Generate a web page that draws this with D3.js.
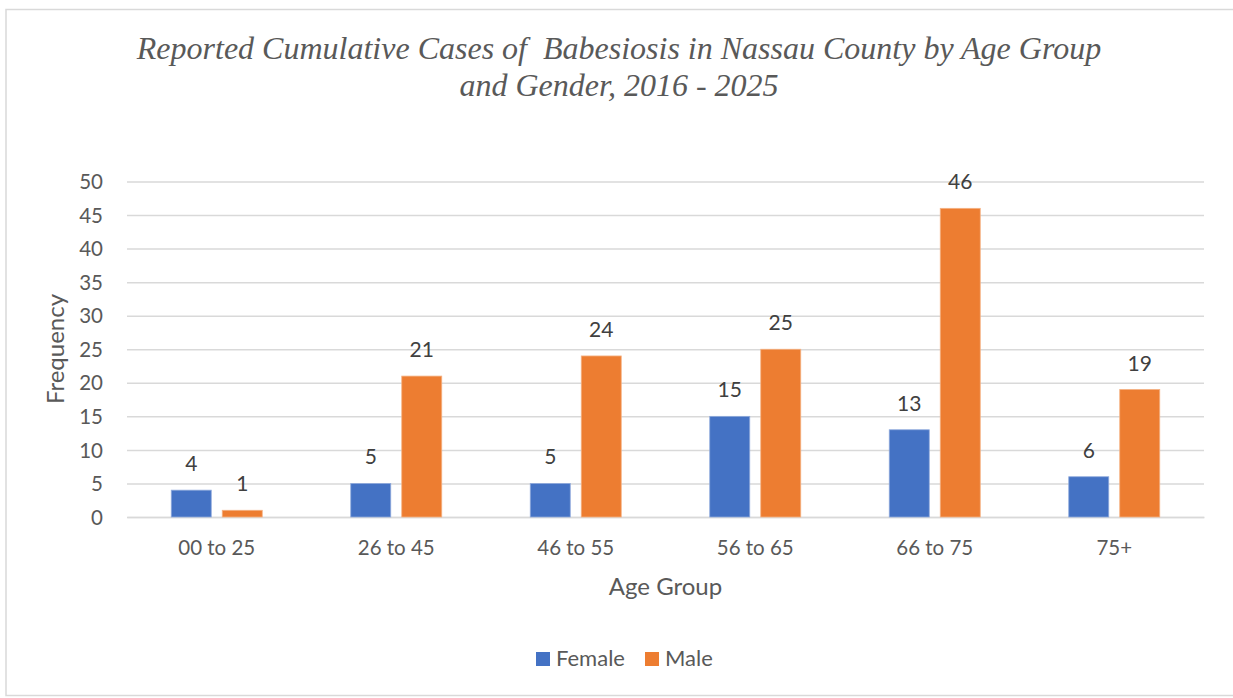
<!DOCTYPE html>
<html>
<head>
<meta charset="utf-8">
<script src="https://cdn.jsdelivr.net/npm/d3@7"></script>
<style>
  body { margin: 0; background: #fff; }
  svg text { white-space: pre; }
</style>
</head>
<body>
<div id="chart-area"></div>
<script>
// datos del grafico
var grupos = ["00 to 25", "26 to 45", "46 to 55", "56 to 65", "66 to 75", "75+"];
var series = ["Female", "Male"];
var female = [4, 5, 5, 15, 13, 6];
var male = [1, 21, 24, 25, 46, 19];
var yTicks = [0, 5, 10, 15, 20, 25, 30, 35, 40, 45, 50];
var titleLines = ["Reported Cumulative Cases of  Babesiosis in Nassau County by Age Group", "and Gender, 2016 - 2025"];

var W = 1233, H = 698;
var margin = { left: 127, right: 29, top: 181.5, bottom: 181 };
var width = 1204 - margin.left,
    height = 517 - margin.top;
var fuente = "Lato, 'Open Sans', sans-serif";

var colores = d3.scaleOrdinal().domain(series).range(["#4472C4", "#ED7D31"]);

var svg = d3.select("#chart-area")
    .append("svg")
        .attr("width", W)
        .attr("height", H);

// borde del grafico
svg.append("rect")
    .attr("x", 6).attr("y", 9.5)
    .attr("width", 1240).attr("height", 686)
    .attr("fill", "#fff")
    .attr("stroke", "#d9d9d9")
    .attr("stroke-width", 1.5);

var g = svg.append("g")
    .attr("transform", "translate(" + margin.left + "," + margin.top + ")");

var x0 = d3.scaleBand().domain(grupos).range([0, width]).padding(0);
var barW = 40, gap = 11;
var x1 = d3.scaleOrdinal().domain(series).range([
    (x0.bandwidth() - 2 * barW - gap) / 2,
    (x0.bandwidth() - 2 * barW - gap) / 2 + barW + gap
]);
var y = d3.scaleLinear().domain([0, 50]).range([height, 0]);

// lineas de cuadricula
var yAxis = d3.axisLeft(y).tickValues(yTicks).tickSize(-width).tickPadding(24);
g.append("g")
    .call(yAxis)
    .call(a => a.select(".domain").remove())
    .call(a => a.selectAll("line").attr("stroke", "#d9d9d9").attr("stroke-width", 1.5))
    .call(a => a.selectAll("text")
        .attr("fill", "#595959")
        .attr("font-family", fuente)
        .attr("font-size", 20.5)
        .attr("dy", "0.35em"));

var xAxis = d3.axisBottom(x0).tickSize(0).tickPadding(23);
g.append("g")
    .attr("transform", "translate(0," + height + ")")
    .call(xAxis)
    .call(a => a.select(".domain").attr("stroke", "#d9d9d9").attr("stroke-width", 1.5))
    .call(a => a.selectAll("text")
        .attr("fill", "#595959")
        .attr("font-family", fuente)
        .attr("font-size", 20.5));

var datos = grupos.map(function(d, i) {
    return { grupo: d, valores: [
        { serie: "Female", v: female[i] },
        { serie: "Male", v: male[i] }
    ]};
});

var grp = g.selectAll(".grupo")
    .data(datos)
    .join("g")
        .attr("class", "grupo")
        .attr("transform", d => "translate(" + x0(d.grupo) + ",0)");

grp.selectAll("rect")
    .data(d => d.valores)
    .join("rect")
        .attr("x", d => x1(d.serie))
        .attr("y", d => y(d.v))
        .attr("width", barW)
        .attr("height", d => height - y(d.v))
        .attr("fill", d => colores(d.serie))
        .attr("stroke", d => d.serie == "Female" ? "#8faadc" : "#f4b183")
        .attr("stroke-width", 0.8);

grp.selectAll("text")
    .data(d => d.valores)
    .join("text")
        .attr("x", d => x1(d.serie) + barW / 2)
        .attr("y", d => y(d.v) - 19)
        .attr("text-anchor", "middle")
        .attr("fill", "#404040")
        .attr("font-family", fuente)
        .attr("font-size", 21)
        .text(d => d.v);

// titulos de ejes
svg.append("text")
    .attr("x", margin.left + width / 2)
    .attr("y", 595)
    .attr("text-anchor", "middle")
    .attr("fill", "#595959")
    .attr("font-family", fuente)
    .attr("font-size", 24)
    .text("Age Group");

svg.append("text")
    .attr("transform", "translate(64,349) rotate(-90)")
    .attr("text-anchor", "middle")
    .attr("fill", "#595959")
    .attr("font-family", fuente)
    .attr("font-size", 24)
    .text("Frequency");

// titulo
svg.selectAll(".titulo")
    .data(titleLines)
    .join("text")
        .attr("class", "titulo")
        .attr("x", 619)
        .attr("y", (d, i) => 59 + i * 37)
        .attr("text-anchor", "middle")
        .attr("fill", "#595959")
        .attr("font-family", "'Liberation Serif', 'Times New Roman', serif")
        .attr("font-style", "italic")
        .attr("font-size", 32)
        .text(d => d);

// leyenda
var leyX = [536, 645];
var legend = svg.append("g");
series.forEach(function(s, i) {
    var row = legend.append("g")
        .attr("transform", "translate(" + leyX[i] + ",652)");
    row.append("rect")
        .attr("width", 14)
        .attr("height", 14)
        .attr("fill", colores(s));
    row.append("text")
        .attr("x", 20)
        .attr("y", 14)
        .attr("fill", "#595959")
        .attr("font-family", fuente)
        .attr("font-size", 22)
        .text(s);
});
</script>
</body>
</html>
